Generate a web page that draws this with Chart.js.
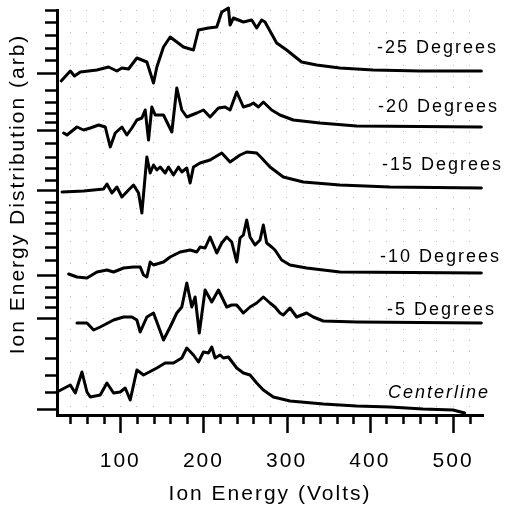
<!DOCTYPE html>
<html>
<head>
<meta charset="utf-8">
<script src="https://cdn.jsdelivr.net/npm/chart.js@4"></script>
<style>
  html, body { margin: 0; padding: 0; background: #fff; }
  canvas { display: block; }
</style>
</head>
<body>
<canvas id="ied" width="505" height="515"></canvas>
<script>
// Ion energy distributions, one trace per probe angle (energy in volts, signal in arb. units)
const energyM25 = [29, 40, 45, 52, 72, 86, 96, 102, 110, 120, 132, 140, 144, 152, 160, 176, 188, 194, 206, 216, 222, 230, 232, 236, 248, 258, 264, 270, 274, 288, 300, 318, 336, 364, 404, 460, 534];
const signalM25 = [-9, 1, -4, 0, 2, 5, 1, 4, 3, 14, 10, -11, 5, 25, 35, 25, 22, 42, 44, 45, 60, 64, 47, 54, 50, 52, 44, 52, 50, 29, 22, 10, 7, 4, 2, 1, 1];

const energyM20 = [32, 36, 48, 56, 64, 74, 82, 88, 94, 102, 108, 114, 120, 126, 130, 134, 138, 142, 152, 162, 168, 174, 180, 192, 200, 208, 218, 226, 232, 240, 248, 256, 260, 266, 272, 282, 292, 308, 340, 384, 534];
const signalM20 = [-5, -7, 1, -2, 0, 3, 1, -19, -5, 1, -7, 0, 8, 10, 18, -12, 21, 13, 13, -4, 40, 18, 11, 15, 18, 11, 20, 21, 18, 36, 21, 23, 25, 21, 26, 18, 13, 8, 5, 2, 1];

const energyM15 = [30, 56, 80, 84, 90, 96, 102, 110, 116, 122, 126, 132, 136, 140, 144, 148, 154, 158, 164, 170, 174, 180, 184, 188, 196, 208, 222, 232, 244, 252, 264, 270, 280, 288, 296, 320, 364, 424, 534];
const signalM15 = [-4, -3, -1, 4, -5, 1, -9, -2, 3, -5, -25, 31, 15, 23, 18, 21, 15, 21, 13, 21, 16, 20, 5, 21, 25, 28, 35, 26, 33, 36, 35, 30, 21, 16, 11, 6, 3, 1, 0];

const energyM10 = [38, 48, 60, 72, 84, 92, 104, 116, 124, 128, 132, 136, 140, 152, 160, 172, 184, 192, 196, 202, 208, 216, 222, 228, 234, 240, 244, 248, 252, 256, 262, 268, 272, 276, 282, 286, 294, 304, 324, 364, 534];
const signalM10 = [0, -3, -4, 2, 4, 2, 6, 7, 7, -1, -3, 12, 9, 12, 17, 22, 24, 22, 27, 26, 37, 21, 31, 37, 32, 12, 36, 39, 54, 37, 29, 34, 49, 31, 27, 24, 14, 9, 6, 2, 1];

const energyM5 = [48, 60, 68, 76, 92, 104, 114, 120, 124, 132, 140, 152, 160, 168, 174, 180, 186, 190, 195, 202, 210, 218, 228, 234, 240, 248, 256, 264, 272, 280, 286, 292, 296, 304, 312, 324, 332, 344, 384, 534];
const signalM5 = [0, 0, -7, -4, 3, 6, 6, 3, -9, 6, 10, -17, -4, 10, 16, 40, 16, 26, -10, 33, 21, 33, 16, 18, 18, 10, 16, 20, 26, 20, 16, 10, 8, 15, 6, 10, 6, 2, 1, 0];

const energyCL = [24, 40, 46, 54, 60, 64, 76, 84, 92, 100, 106, 112, 120, 128, 144, 154, 164, 174, 180, 188, 194, 200, 206, 210, 214, 220, 224, 230, 240, 248, 256, 264, 272, 284, 304, 344, 384, 424, 464, 500, 514];
const signalCL = [17, 24, 16, 37, 17, 12, 14, 26, 16, 17, 21, 9, 39, 34, 41, 46, 46, 51, 61, 54, 47, 57, 56, 62, 51, 54, 51, 52, 41, 36, 34, 26, 19, 12, 8, 5, 3, 2, 0, -1, -4];

const traceNames   = ['-25 Degrees', '-20 Degrees', '-15 Degrees', '-10 Degrees', '-5 Degrees', 'Centerline'];
const traceEnergy  = [energyM25, energyM20, energyM15, energyM10, energyM5, energyCL];
const traceSignal  = [signalM25, signalM20, signalM15, signalM10, signalM5, signalCL];
// vertical stacking offset of each trace (arb)
const traceOffsets = [343, 287, 227, 141, 92, 6];

// axis ticks
const xTickValues  = [40, 60, 80, 100, 120, 140, 160, 180, 200, 220, 240, 260, 280, 300, 320, 340, 360, 380, 400, 420, 440, 460, 480, 500, 520];
const xMajorValues = [100, 200, 300, 400, 500];
const yMajorValues = [342, 285, 225, 140, 97, 6];
const yMinorValues = [405, 393, 380, 367, 355, 325, 313, 302, 293, 272, 258, 247, 235, 213, 203, 192, 182, 168, 155, 128, 118, 108, 77, 57, 40, 23];

const xTitle = 'Ion Energy (Volts)';
const yTitle = 'Ion Energy Distribution (arb)';

// ---- presentation ----
const INK = '#000';
const FONT = '"Liberation Sans", Arial, Helvetica, sans-serif';
const SPACING = '2px';
const labelAnchors = [
  { x: 377, y: 53 }, { x: 378, y: 112 }, { x: 382, y: 170 },
  { x: 380, y: 262 }, { x: 387, y: 315 }, { x: 388, y: 398 }
];

const datasets = traceNames.map((name, i) => ({
  label: name,
  data: traceEnergy[i].map((e, k) => ({ x: e, y: traceOffsets[i] + traceSignal[i][k] })),
  borderColor: INK,
  borderWidth: 3,
  borderJoinStyle: 'round',
  borderCapStyle: 'round',
  pointRadius: 0,
  tension: 0,
  fill: false,
  clip: false
}));

const letterSpacing = {
  id: 'letterSpacing',
  beforeUpdate(chart) { chart.ctx.letterSpacing = SPACING; },
  beforeDraw(chart) { chart.ctx.letterSpacing = SPACING; }
};

const decor = {
  id: 'decor',
  afterDraw(chart) {
    const ctx = chart.ctx;
    const xs = chart.scales.x, ys = chart.scales.y;
    ctx.save();
    ctx.strokeStyle = INK;
    ctx.lineWidth = 2.5;
    xs.ticks.forEach(t => {
      const px = Math.round(xs.getPixelForValue(t.value)) + 0.5;
      const len = t.major ? 18 : 9;
      ctx.beginPath();
      ctx.moveTo(px, xs.top);
      ctx.lineTo(px, xs.top + len);
      ctx.stroke();
    });
    ys.ticks.forEach(t => {
      const py = Math.round(ys.getPixelForValue(t.value)) + 0.5;
      const len = t.major ? 20 : 12;
      ctx.beginPath();
      ctx.moveTo(ys.right, py);
      ctx.lineTo(ys.right - len, py);
      ctx.stroke();
    });
    ctx.restore();

    // vertical axis title
    ctx.save();
    ctx.letterSpacing = SPACING;
    ctx.fillStyle = INK;
    ctx.font = '21px ' + FONT;
    ctx.translate(18, 194);
    ctx.rotate(-Math.PI / 2);
    ctx.textAlign = 'center';
    ctx.textBaseline = 'middle';
    ctx.fillText(yTitle, 0, 0);
    ctx.restore();

    // trace names
    ctx.save();
    ctx.letterSpacing = SPACING;
    ctx.fillStyle = INK;
    ctx.textAlign = 'left';
    ctx.textBaseline = 'alphabetic';
    traceNames.forEach((name, i) => {
      ctx.font = (i === traceNames.length - 1 ? 'italic ' : '') + '18px ' + FONT;
      ctx.fillText(name, labelAnchors[i].x, labelAnchors[i].y);
    });
    ctx.restore();
  }
};

new Chart(document.getElementById('ied'), {
  type: 'line',
  data: { datasets },
  plugins: [letterSpacing, decor],
  options: {
    responsive: false,
    animation: false,
    devicePixelRatio: 1,
    layout: { padding: { left: 0, right: 22, top: 10, bottom: 0 } },
    plugins: { legend: { display: false }, tooltip: { enabled: false } },
    scales: {
      x: {
        type: 'linear',
        min: 24,
        max: 536,
        afterBuildTicks(scale) {
          scale.ticks = xTickValues.map(v => ({ value: v, major: xMajorValues.includes(v) }));
        },
        afterFit(scale) { scale.height = 100; },
        ticks: {
          autoSkip: false,
          maxRotation: 0,
          padding: 16,
          color: INK,
          font: { family: FONT, size: 21 },
          callback: v => (xMajorValues.includes(v) ? String(v) : '')
        },
        grid: {
          display: true,
          drawOnChartArea: true,
          drawTicks: true,
          tickLength: 18,
          tickColor: 'rgba(0,0,0,0)',
          color: 'rgba(0,0,0,0.28)',
          lineWidth: 1
        },
        border: { display: true, color: INK, width: 3, dash: [1, 10] },
        title: {
          display: true,
          text: xTitle,
          color: INK,
          font: { family: FONT, size: 21 },
          padding: { top: 0, bottom: 8 }
        }
      },
      y: {
        type: 'linear',
        min: 0,
        max: 405,
        afterBuildTicks(scale) {
          const major = yMajorValues.map(v => ({ value: v, major: true }));
          const minor = yMinorValues.map(v => ({ value: v, major: false }));
          scale.ticks = major.concat(minor).sort((a, b) => a.value - b.value);
        },
        afterFit(scale) { scale.width = 57; },
        ticks: { display: false },
        grid: { display: false },
        border: { display: true, color: INK, width: 3 }
      }
    }
  }
});
</script>
</body>
</html>
